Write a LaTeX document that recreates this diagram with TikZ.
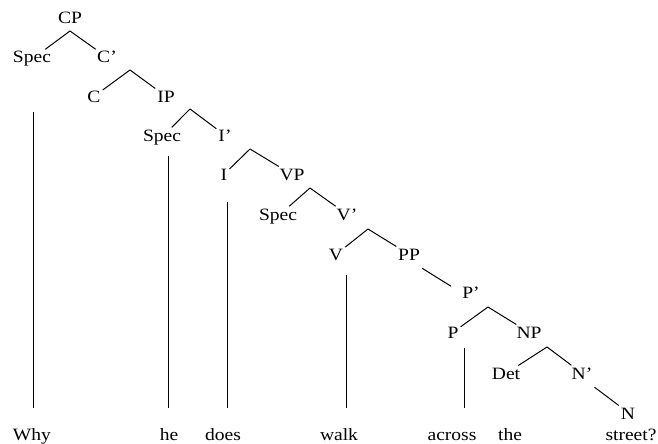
\documentclass[tikz,border=0pt]{standalone}
\usepackage{fontspec}
\setmainfont{Liberation Serif}[FakeStretch=1.13]
\begin{document}
\begin{tikzpicture}[x=1pt,y=-1pt,
  lab/.style={font=\fontsize{17.3}{20}\selectfont, inner sep=2pt, anchor=base},
  br/.style={line width=1pt}]
\useasboundingbox (0,0) rectangle (658,444);
% category labels
\node[lab] (cp)    at (70,24)  {CP};
\node[lab] (spec1) at (32,63)  {Spec};
\node[lab] (cbar)  at (107,63) {C'};
\node[lab] (c)     at (94,102) {C};
\node[lab] (ip)    at (166,102) {IP};
\node[lab] (spec2) at (162,141) {Spec};
\node[lab] (ibar)  at (225,141) {I'};
\node[lab] (i)     at (224,180) {I};
\node[lab] (vp)    at (292,180) {VP};
\node[lab] (spec3) at (278,220) {Spec};
\node[lab] (vbar)  at (347,220) {V'};
\node[lab] (v)     at (336,260) {V};
\node[lab] (pp)    at (409,260) {PP};
\node[lab] (pbar)  at (471,298) {P'};
\node[lab] (p)     at (453,338) {P};
\node[lab] (np)    at (529,338) {NP};
\node[lab] (det)   at (506,379) {Det};
\node[lab] (nbar)  at (582,379) {N'};
\node[lab] (n)     at (628,419) {N};
% words
\node[lab] (w1) at (32,440)  {Why};
\node[lab] (w2) at (169,440) {he};
\node[lab] (w3) at (223,440) {does};
\node[lab] (w4) at (339,440) {walk};
\node[lab] (w5) at (452,440) {across};
\node[lab] (w6) at (510,440) {the};
\node[lab] (w7) at (631,440) {street?};
% branch apexes
\coordinate (acp)   at (70,31);
\coordinate (acbar) at (130,70);
\coordinate (aip)   at (190,109);
\coordinate (aibar) at (250,149);
\coordinate (avp)   at (310,188);
\coordinate (avbar) at (368,229);
\coordinate (apbar) at (488,307);
\coordinate (anp)   at (547,347);
% branches
\draw[br] (acp) -- (spec1);   \draw[br] (acp) -- (cbar);
\draw[br] (acbar) -- (c);     \draw[br] (acbar) -- (ip);
\draw[br] (aip) -- (spec2);   \draw[br] (aip) -- (ibar);
\draw[br] (aibar) -- (i);     \draw[br] (aibar) -- (vp);
\draw[br] (avp) -- (spec3);   \draw[br] (avp) -- (vbar);
\draw[br] (avbar) -- (v);     \draw[br] (avbar) -- (pp);
\draw[br] ([yshift=-6pt]pp.south east) -- ([xshift=-9pt,yshift=-2pt]pbar.north west);
\draw[br] (apbar) -- (p);     \draw[br] (apbar) -- (np);
\draw[br] (anp) -- (det);     \draw[br] (anp) -- (nbar);
\draw[br] ([yshift=-6pt]nbar.south east) -- (n.north west);
% vertical leaf lines
\coordinate (t1) at (33,112);
\coordinate (t2) at (168,156);
\coordinate (t3) at (227,202);
\coordinate (t4) at (346,275);
\coordinate (t5) at (464,348);
\draw[br] (t1) -- (t1 |- w1.north) [shorten >=18pt];
\draw[br] (t2) -- (t2 |- w1.north) [shorten >=18pt];
\draw[br] (t3) -- (t3 |- w1.north) [shorten >=18pt];
\draw[br] (t4) -- (t4 |- w1.north) [shorten >=18pt];
\draw[br] (t5) -- (t5 |- w1.north) [shorten >=18pt];
\end{tikzpicture}
\end{document}
